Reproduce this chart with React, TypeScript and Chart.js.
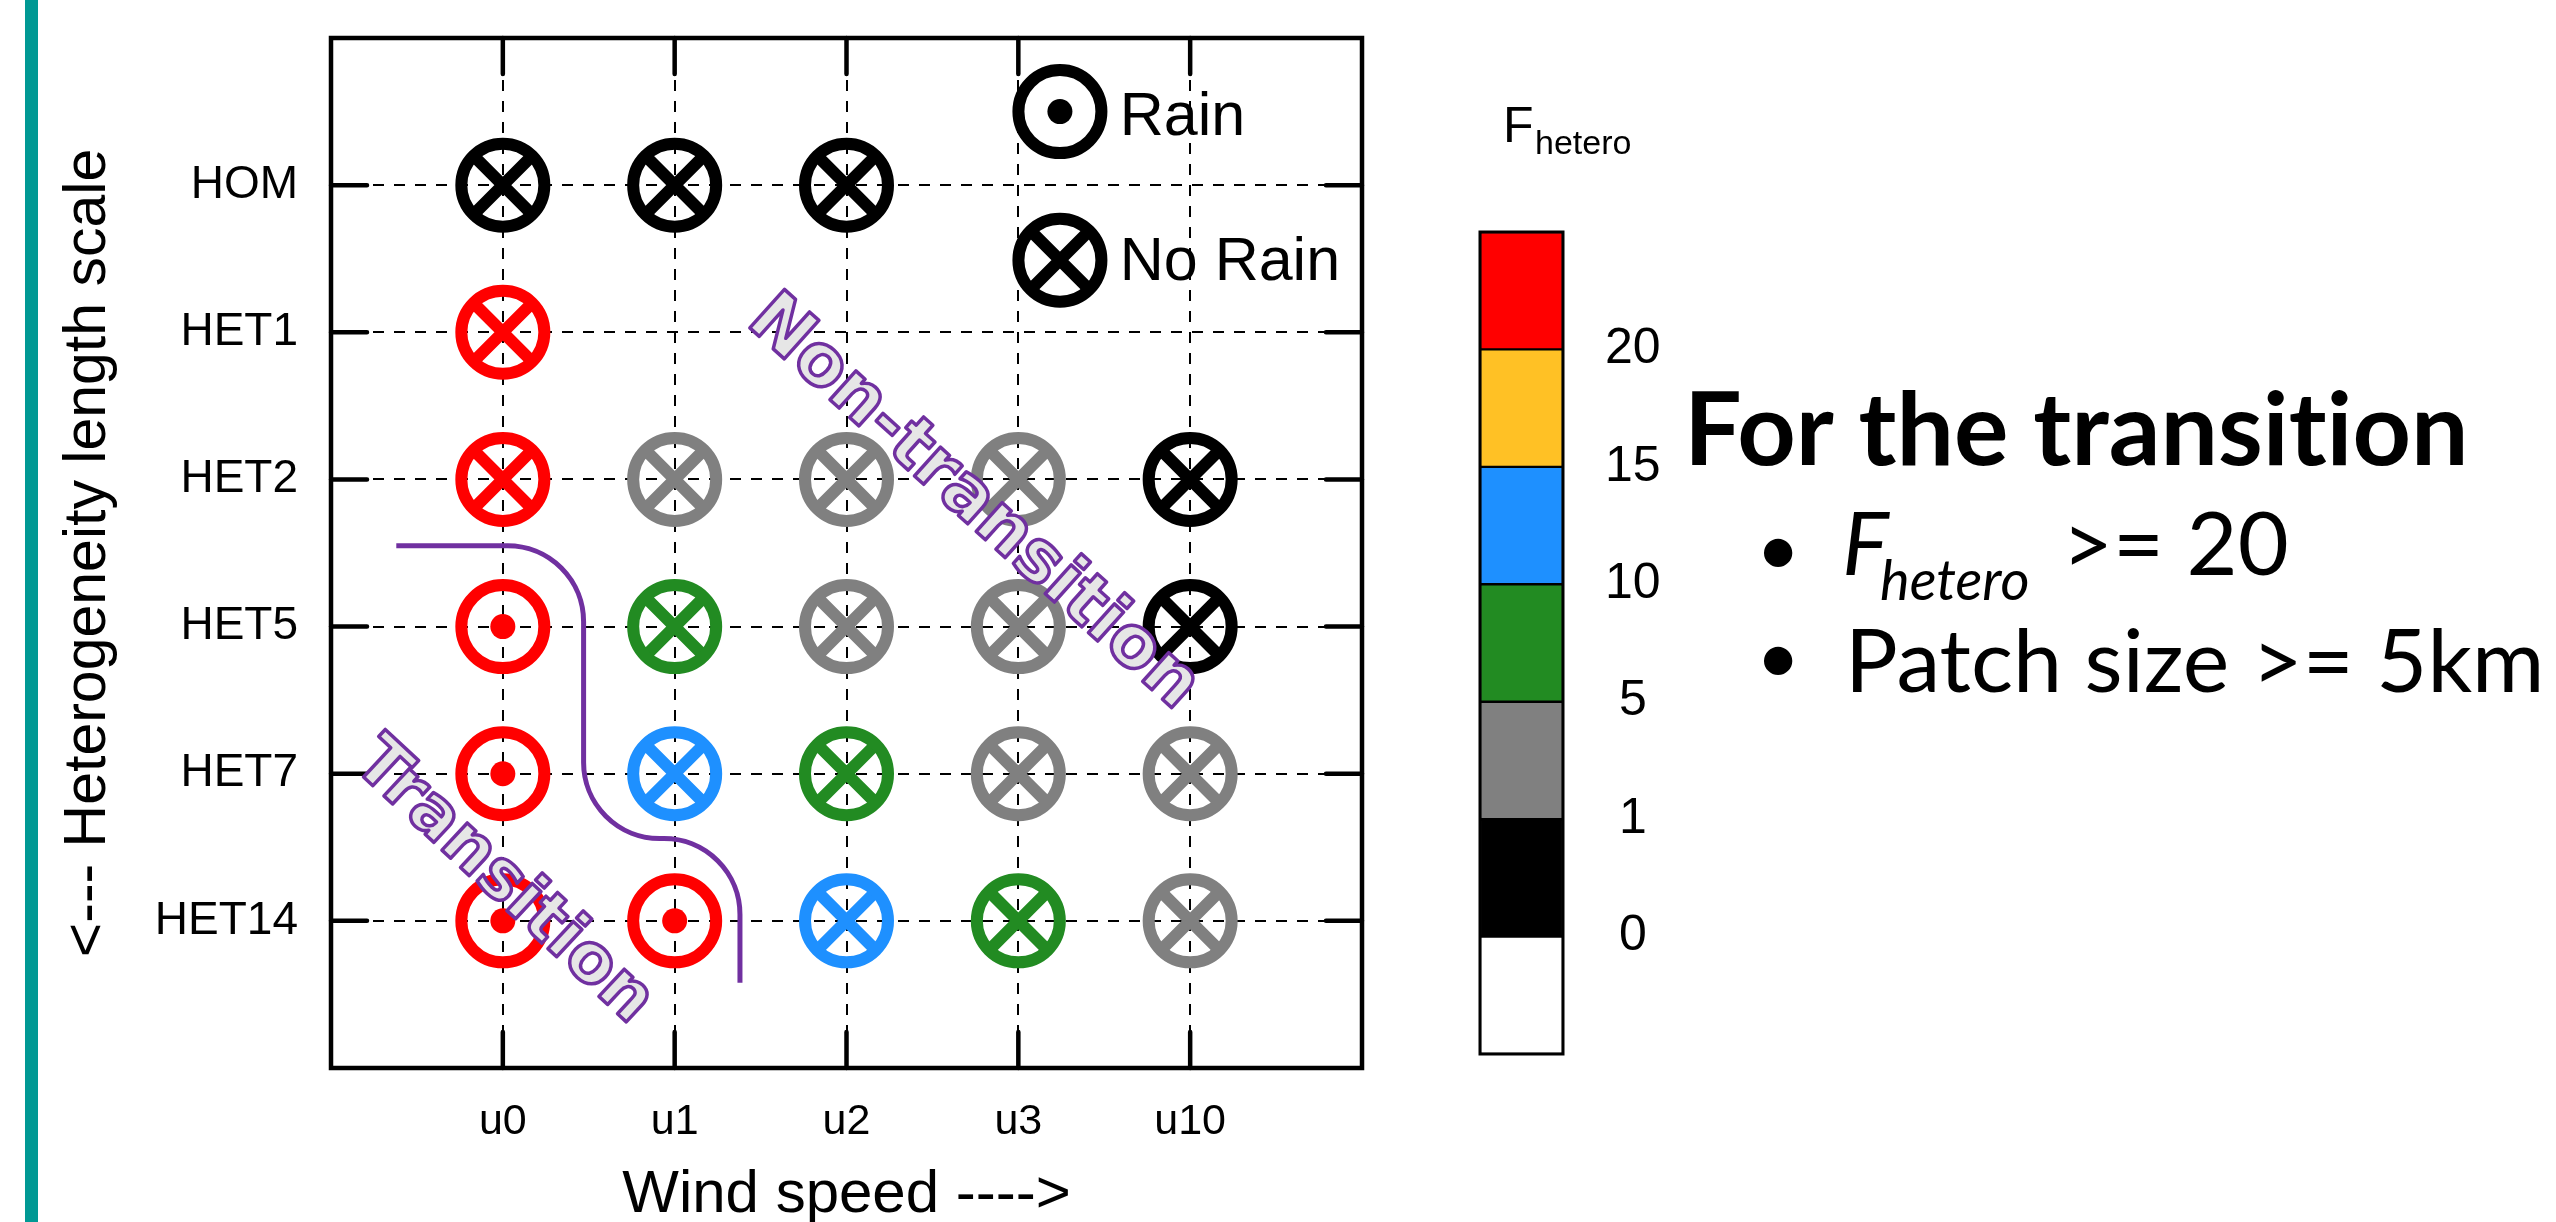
import React, { useEffect, useRef } from 'react';
import { Chart, registerables } from 'chart.js';

Chart.register(...registerables);

// ---------- data ----------
const windLabels = ['u0', 'u1', 'u2', 'u3', 'u10'];
const hetLabels = ['HOM', 'HET1', 'HET2', 'HET5', 'HET7', 'HET14'];

// F_hetero class (lower edge of colour band) per wind speed; null = no run
const fHOM = [0, 0, 0, null, null];
const fHET1 = [20, null, null, null, null];
const fHET2 = [20, 1, 1, 1, 0];
const fHET5 = [20, 5, 1, 1, 0];
const fHET7 = [20, 10, 5, 1, 1];
const fHET14 = [20, 20, 10, 5, 1];
const fRows = [fHOM, fHET1, fHET2, fHET5, fHET7, fHET14];

// runs that produced rain: [wind speed, heterogeneity]
const rainCases = [
  ['u0', 'HET5'],
  ['u0', 'HET7'],
  ['u0', 'HET14'],
  ['u1', 'HET14'],
];

// colour bar
const bandEdges = [0, 1, 5, 10, 15, 20];
const bandColors = ['#ffffff', '#000000', '#808080', '#228b22', '#1e90ff', '#ffc125', '#ff0000'];

// transition boundary (data coordinates: wind index, heterogeneity index)
const boundaryX = [-0.62, 0.47, 0.47, 1.38, 1.38];
const boundaryY = [2.45, 2.45, 4.44, 4.44, 5.42];

// ---------- helpers ----------
const SANS = "'Liberation Sans', Arial, Helvetica, sans-serif";
const GILL = "Lato, 'Open Sans', sans-serif";
const PURPLE = '#7030a0';
const RING_R = 41.5;
const RING_W = 12;
const DOT_R = 12.5;
const ZWNJ = '\u200C';

function colorFor(f: number) {
  let idx = 0;
  bandEdges.forEach((e, i) => {
    if (f >= e) idx = i + 1;
  });
  return bandColors[idx];
}

type Cell = { x: number; y: number; color: string; rain: boolean };
const cells: Cell[] = [];
fRows.forEach((row, r) =>
  row.forEach((f, c) => {
    if (f === null) return;
    const rain = rainCases.some(([w, h]) => w === windLabels[c] && h === hetLabels[r]);
    cells.push({ x: c, y: r, color: colorFor(f as number), rain });
  })
);
const noRainCells = cells.filter((c) => !c.rain);
const rainCells = cells.filter((c) => c.rain);

function drawMarker(ctx: CanvasRenderingContext2D, x: number, y: number, color: string, rain: boolean) {
  ctx.save();
  ctx.strokeStyle = color;
  ctx.fillStyle = color;
  ctx.lineWidth = RING_W;
  ctx.beginPath();
  ctx.arc(x, y, RING_R, 0, Math.PI * 2);
  ctx.stroke();
  if (rain) {
    ctx.beginPath();
    ctx.arc(x, y, DOT_R, 0, Math.PI * 2);
    ctx.fill();
  } else {
    const d = RING_R * Math.SQRT1_2;
    ctx.beginPath();
    ctx.moveTo(x - d, y - d);
    ctx.lineTo(x + d, y + d);
    ctx.moveTo(x + d, y - d);
    ctx.lineTo(x - d, y + d);
    ctx.stroke();
  }
  ctx.restore();
}

function outlinedText(ctx: CanvasRenderingContext2D, text: string, x: number, y: number, angleDeg: number, size: number) {
  ctx.save();
  ctx.translate(x, y);
  ctx.rotate((angleDeg * Math.PI) / 180);
  ctx.font = `bold ${size}px 'DejaVu Sans', Verdana, sans-serif`;
  ctx.textAlign = 'center';
  ctx.textBaseline = 'middle';
  ctx.fillStyle = '#e6e6e6';
  ctx.fillText(text, 0, 0);
  ctx.lineJoin = 'round';
  ctx.lineWidth = 3.5;
  ctx.strokeStyle = PURPLE;
  ctx.strokeText(text, 0, 0);
  ctx.restore();
}

// draw a bullet glyph centred on (cx, cy) with a given diameter
function bullet(ctx: CanvasRenderingContext2D, cx: number, cy: number, diameter: number) {
  ctx.font = `100px ${GILL}`;
  const m0 = ctx.measureText('\u2022');
  const w0 = m0.actualBoundingBoxLeft + m0.actualBoundingBoxRight;
  const size = (100 * diameter) / (w0 || 25);
  ctx.font = `${size}px ${GILL}`;
  const m = ctx.measureText('\u2022');
  const left = cx - (m.actualBoundingBoxRight - m.actualBoundingBoxLeft) / 2;
  const base = cy - (m.actualBoundingBoxDescent - m.actualBoundingBoxAscent) / 2;
  ctx.fillText('\u2022', left, base);
}

const framePlugin = {
  id: 'frame',
  beforeDatasetsDraw(chart: any) {
    const { ctx, chartArea: a, scales } = chart;
    ctx.save();
    ctx.strokeStyle = '#000';
    ctx.lineWidth = 4.5;
    ctx.strokeRect(a.left, a.top, a.right - a.left, a.bottom - a.top);
    ctx.lineCap = 'round';
    ctx.lineWidth = 4.5;
    const TL = 36;
    ctx.beginPath();
    windLabels.forEach((_, i) => {
      const px = scales.x.getPixelForValue(i);
      ctx.moveTo(px, a.top);
      ctx.lineTo(px, a.top + TL);
      ctx.moveTo(px, a.bottom);
      ctx.lineTo(px, a.bottom - TL);
    });
    hetLabels.forEach((_, i) => {
      const py = scales.y.getPixelForValue(i);
      ctx.moveTo(a.left, py);
      ctx.lineTo(a.left + TL, py);
      ctx.moveTo(a.right, py);
      ctx.lineTo(a.right - TL, py);
    });
    ctx.stroke();
    ctx.restore();
  },
  afterDatasetsDraw(chart: any) {
    const { ctx, scales } = chart;
    const X = (v: number) => scales.x.getPixelForValue(v);
    const Y = (v: number) => scales.y.getPixelForValue(v);

    // legend (inside plot, upper right)
    drawMarker(ctx, X(3.242), Y(-0.5), '#000', true);
    drawMarker(ctx, X(3.242), Y(0.51), '#000', false);
    ctx.save();
    ctx.fillStyle = '#000';
    ctx.font = `61px ${SANS}`;
    ctx.textAlign = 'left';
    ctx.textBaseline = 'alphabetic';
    ctx.fillText('Rain', X(3.59), Y(-0.34));
    ctx.fillText('No Rain', X(3.59), Y(0.645));
    ctx.restore();

    // transition boundary
    ctx.save();
    ctx.strokeStyle = PURPLE;
    ctx.lineWidth = 5;
    ctx.beginPath();
    ctx.moveTo(X(boundaryX[0]), Y(boundaryY[0]));
    for (let i = 1; i < boundaryX.length - 1; i++) {
      ctx.arcTo(X(boundaryX[i]), Y(boundaryY[i]), X(boundaryX[i + 1]), Y(boundaryY[i + 1]), 76);
    }
    ctx.lineTo(X(boundaryX[boundaryX.length - 1]), Y(boundaryY[boundaryY.length - 1]));
    ctx.stroke();
    ctx.restore();

    outlinedText(ctx, 'Non-transition', X(2.735), Y(2.165), 42, 71);
    outlinedText(ctx, 'Transition', X(0.0), Y(4.74), 43, 68);
  },
  afterDraw(chart: any) {
    const { ctx } = chart;
    ctx.save();
    ctx.fillStyle = '#000';
    ctx.textAlign = 'left';
    ctx.textBaseline = 'alphabetic';
    ctx.font = `bold 102px ${GILL}`;
    ctx.fillText(`For the t${ZWNJ}ransit${ZWNJ}ion`, 1684, 465);
    bullet(ctx, 1778, 552, 29);
    bullet(ctx, 1778, 660, 29);
    ctx.textAlign = 'left';
    ctx.font = `italic 88px ${GILL}`;
    ctx.fillText('F', 1842, 575);
    ctx.font = `italic 56px ${GILL}`;
    ctx.fillText('hetero', 1880, 600);
    ctx.font = `88px ${GILL}`;
    ctx.fillText('>= 20', 2062, 575);
    ctx.fillText('Patch size >= 5km', 1845, 692);
    ctx.restore();
  },
};

const cbTitlePlugin = {
  id: 'cbTitle',
  afterDraw(chart: any) {
    const { ctx, chartArea: a } = chart;
    ctx.save();
    ctx.strokeStyle = '#000';
    ctx.lineWidth = 3;
    ctx.strokeRect(a.left, a.top, a.right - a.left, a.bottom - a.top);
    ctx.fillStyle = '#000';
    ctx.textAlign = 'left';
    ctx.textBaseline = 'alphabetic';
    ctx.font = `50px ${SANS}`;
    ctx.fillText('F', 103, 142);
    ctx.font = `34px ${SANS}`;
    ctx.fillText('hetero', 135, 154);
    ctx.restore();
  },
};

export default function App() {
  const mainRef = useRef<HTMLCanvasElement>(null);
  const cbRef = useRef<HTMLCanvasElement>(null);

  useEffect(() => {
    const pts = (arr: Cell[]) => arr.map((c) => ({ x: c.x, y: c.y }));
    const main = new Chart(mainRef.current as HTMLCanvasElement, {
      type: 'scatter',
      data: {
        datasets: [
          {
            label: 'ring',
            data: pts(cells),
            pointStyle: 'circle',
            pointRadius: RING_R,
            pointHoverRadius: RING_R,
            pointBorderWidth: RING_W,
            pointHoverBorderWidth: RING_W,
            pointBorderColor: cells.map((c) => c.color),
            pointBackgroundColor: 'rgba(0,0,0,0)',
          },
          {
            label: 'no rain',
            data: pts(noRainCells),
            pointStyle: 'crossRot',
            pointRadius: RING_R,
            pointHoverRadius: RING_R,
            pointBorderWidth: RING_W,
            pointHoverBorderWidth: RING_W,
            pointBorderColor: noRainCells.map((c) => c.color),
            pointBackgroundColor: noRainCells.map((c) => c.color),
          },
          {
            label: 'rain',
            data: pts(rainCells),
            pointStyle: 'circle',
            pointRadius: DOT_R,
            pointHoverRadius: DOT_R,
            pointBorderWidth: 0,
            pointBorderColor: rainCells.map((c) => c.color),
            pointBackgroundColor: rainCells.map((c) => c.color),
          },
        ] as any,
      },
      options: {
        responsive: false,
        animation: false,
        devicePixelRatio: 1,
        events: [],
        layout: { autoPadding: false, padding: { left: 0, top: 38, right: 1194, bottom: 0 } },
        plugins: { legend: { display: false }, tooltip: { enabled: false } },
        scales: {
          x: {
            type: 'linear',
            position: 'bottom',
            min: -1,
            max: 5,
            afterBuildTicks: (s: any) => {
              s.ticks = windLabels.map((_, i) => ({ value: i }));
            },
            afterFit: (s: any) => {
              s.height = 154;
              s.paddingLeft = 0;
              s.paddingRight = 0;
            },
            ticks: {
              callback: (v: any) => windLabels[v] ?? '',
              color: '#000',
              font: { family: SANS, size: 43 },
              padding: 28,
              maxRotation: 0,
              autoSkip: false,
            },
            grid: { color: '#000', lineWidth: 2, drawTicks: false },
            border: { display: false, dash: [11, 10] },
            title: {
              display: true,
              text: 'Wind speed ---->',
              color: '#000',
              font: { family: SANS, size: 60, lineHeight: 0.9 },
              padding: { top: 0, bottom: 0 },
            },
          },
          y: {
            type: 'linear',
            position: 'left',
            min: -1,
            max: 6,
            reverse: true,
            afterBuildTicks: (s: any) => {
              s.ticks = hetLabels.map((_, i) => ({ value: i }));
            },
            afterFit: (s: any) => {
              s.width = 331;
              s.paddingTop = 0;
              s.paddingBottom = 0;
            },
            ticks: {
              callback: (v: any) => hetLabels[v] ?? '',
              color: '#000',
              font: { family: SANS, size: 46 },
              padding: 33,
              autoSkip: false,
            },
            grid: { color: '#000', lineWidth: 2, drawTicks: false },
            border: { display: false, dash: [11, 10] },
            title: {
              display: true,
              text: '<--- Heterogeneity length scale',
              color: '#000',
              font: { family: SANS, size: 59, lineHeight: 0.9 },
              padding: { top: 62, bottom: 0 },
            },
          },
        },
      } as any,
      plugins: [framePlugin],
    });

    const cb = new Chart(cbRef.current as HTMLCanvasElement, {
      type: 'bar',
      data: {
        labels: [''],
        datasets: bandColors.map((c) => ({
          data: [1],
          backgroundColor: c,
          borderColor: '#000',
          borderWidth: 1.5,
          borderSkipped: false,
          barPercentage: 1,
          categoryPercentage: 1,
        })) as any,
      },
      options: {
        responsive: false,
        animation: false,
        devicePixelRatio: 1,
        events: [],
        layout: { autoPadding: false, padding: { left: 80, top: 232, bottom: 168, right: 0 } },
        plugins: { legend: { display: false }, tooltip: { enabled: false } },
        scales: {
          x: { display: false, stacked: true },
          y: {
            position: 'right',
            stacked: true,
            min: 0,
            max: 7,
            afterBuildTicks: (s: any) => {
              s.ticks = bandEdges.map((_, i) => ({ value: i + 1 }));
            },
            afterFit: (s: any) => {
              s.width = 237;
              s.paddingTop = 0;
              s.paddingBottom = 0;
            },
            ticks: {
              callback: (v: any) => String(bandEdges[v - 1]),
              color: '#000',
              font: { family: SANS, size: 50 },
              crossAlign: 'center',
              padding: 34,
              autoSkip: false,
            },
            grid: { display: false },
            border: { display: false },
          },
        },
      } as any,
      plugins: [cbTitlePlugin],
    });

    return () => {
      main.destroy();
      cb.destroy();
    };
  }, []);

  return (
    <div style={{ position: 'fixed', left: 0, top: 0, width: 2556, height: 1222, background: '#fff', overflow: 'hidden' }}>
      <div style={{ position: 'absolute', left: 25, top: 0, width: 13, height: 1222, background: '#009994' }} />
      <canvas ref={mainRef} width={2556} height={1222} style={{ position: 'absolute', left: 0, top: 0 }} />
      <canvas ref={cbRef} width={400} height={1222} style={{ position: 'absolute', left: 1400, top: 0 }} />
    </div>
  );
}
